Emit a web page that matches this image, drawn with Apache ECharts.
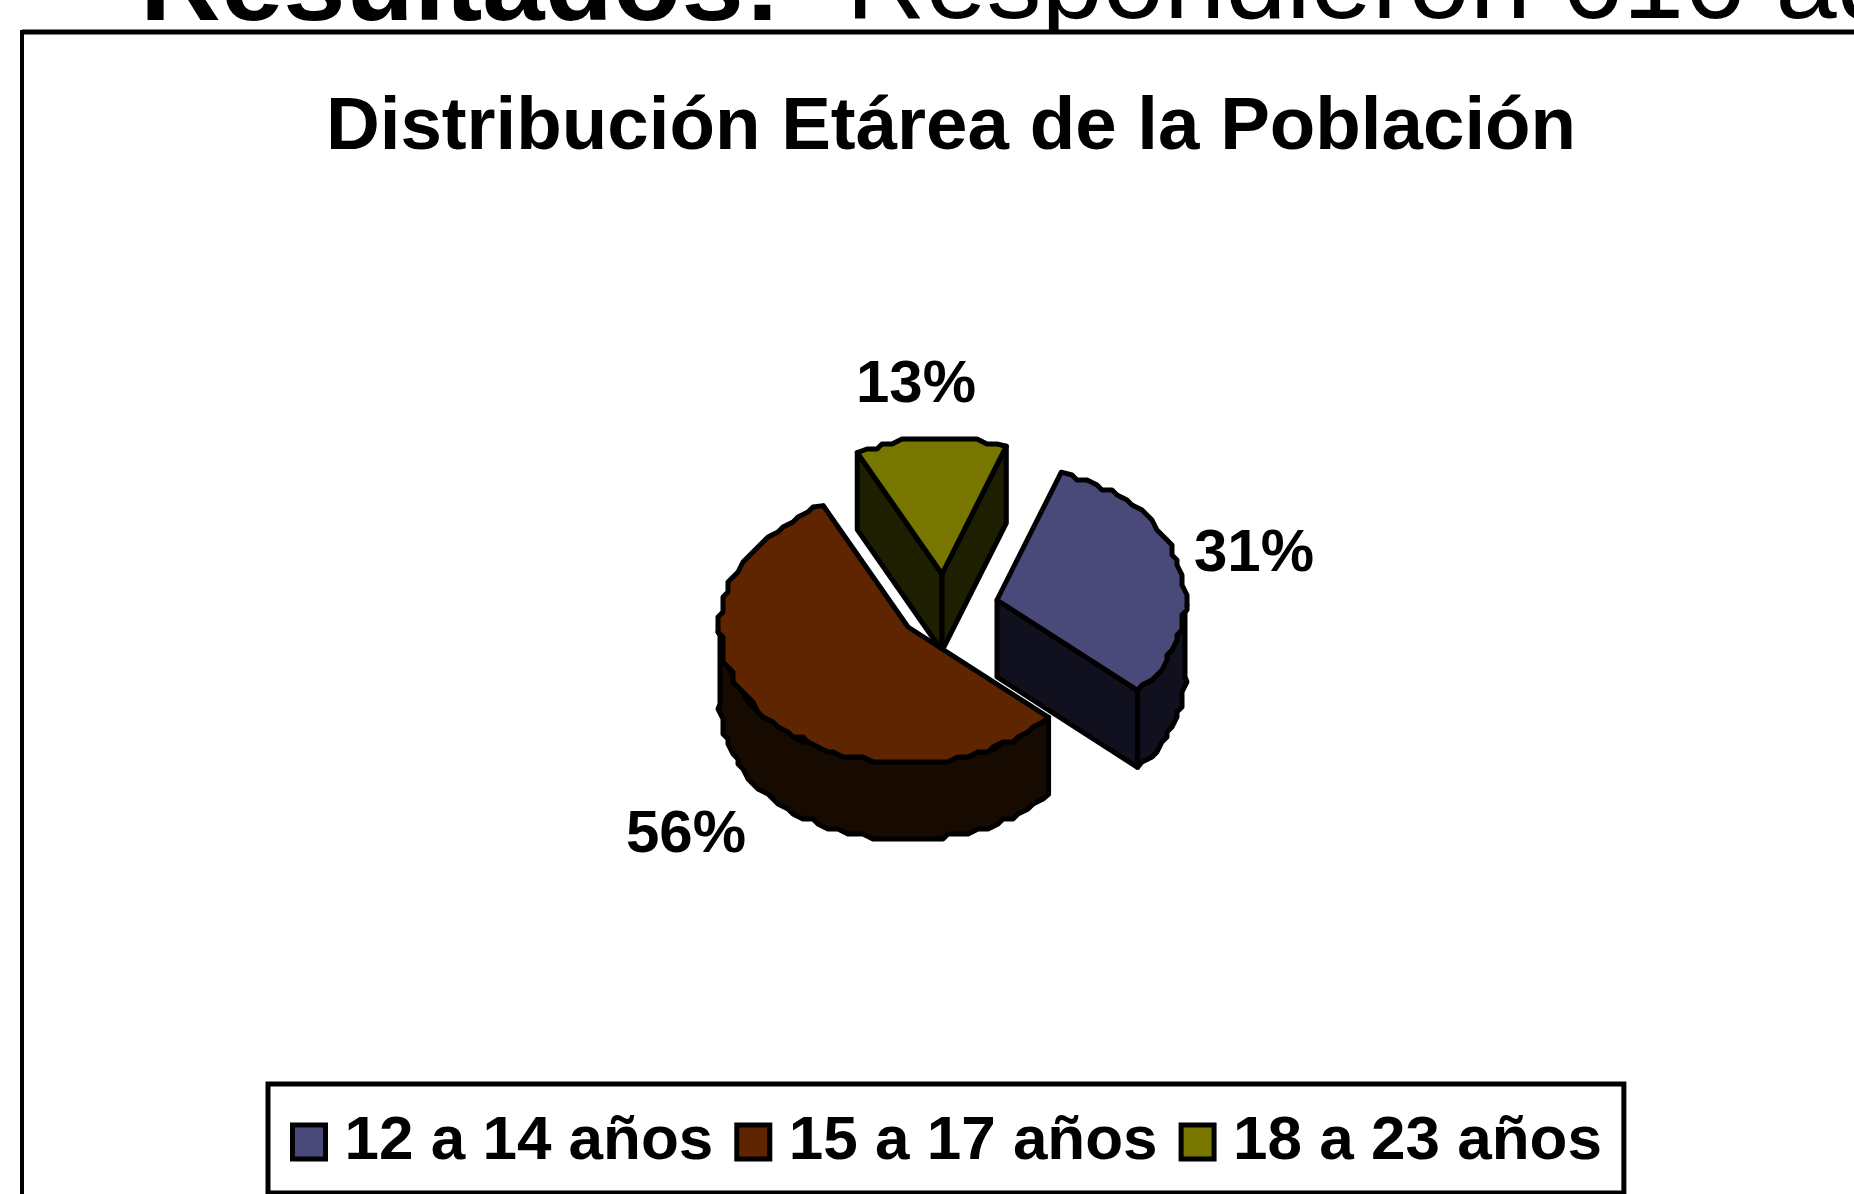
<!DOCTYPE html>
<html>
<head>
<meta charset="utf-8">
<title>Distribución Etárea de la Población</title>
<style>
  html, body { margin: 0; padding: 0; background: #fff; }
  #chart { width: 1854px; height: 1194px; }
</style>
<script src="https://cdn.jsdelivr.net/npm/echarts@6/dist/echarts.min.js"></script>
</head>
<body>
<div id="chart"></div>
<script>
var categories = ['12 a 14 años', '15 a 17 años', '18 a 23 años'];
var shares = [31, 56, 13];
var labels = ['31%', '56%', '13%'];

var topColors = ['#4a4a7a', '#5f2500', '#777700'];
var sideColors = ['#10101e', '#170a00', '#1e1e00'];
var font = '"Liberation Sans", Arial, sans-serif';

// pie is flattened, so angles are on an ellipse
var centerX = 908, centerY = 627;
var radiusX = 188, radiusY = 136, depth = 77;
var startAngle = 70;
var snap = 5; // the source outline is lumpy, not a clean curve
// slice offsets and label positions, same order as categories
var explode = [[89, -27], [0, 0], [34, -53]];
var labelPos = [[1254, 554], [686, 835], [916, 385]];

var total = shares.reduce(function(a, b) { return a + b; }, 0);

function arcPoints(cx, cy, from, to) {
  var pts = [];
  var n = Math.max(2, Math.ceil(Math.abs(to - from) / 3));
  for (var i = 0; i <= n; i++) {
    var a = (from + (to - from) * i / n) * Math.PI / 180;
    var dx = radiusX * Math.cos(a), dy = -radiusY * Math.sin(a);
    if (i > 0 && i < n) {
      dx = Math.round(dx / snap) * snap;
      dy = Math.round(dy / snap) * snap;
    }
    pts.push([cx + dx, cy + dy]);
  }
  return pts;
}

function down(pts) {
  return pts.map(function(p) { return [p[0], p[1] + depth]; }).reverse();
}

function face(pts, color) {
  return {
    type: 'polygon',
    shape: { points: pts },
    style: { fill: color, stroke: '#000', lineWidth: 5, lineJoin: 'round' }
  };
}

function sliceRenderer(index) {
  return function(params, api) {
    var before = 0;
    for (var i = 0; i < index; i++) before += shares[i];
    var a0 = startAngle - before / total * 360;
    var a1 = a0 - api.value(0) / total * 360;
    var cx = centerX + explode[index][0];
    var cy = centerY + explode[index][1];
    var mid = (a0 + a1) / 2 * Math.PI / 180;
    var children = [];

    // cut faces, only the ones turned to the viewer
    [a0, a1].forEach(function(a) {
      var r = a * Math.PI / 180;
      var px = radiusX * Math.cos(r), py = -radiusY * Math.sin(r);
      var nx = -py, ny = px;
      if (nx * radiusX * Math.cos(mid) - ny * radiusY * Math.sin(mid) > 0) { ny = -ny; }
      if (ny > 0) {
        var edge = [[cx, cy], [cx + px, cy + py]];
        children.push(face(edge.concat(down(edge)), sideColors[index]));
      }
    });

    // outer wall, front half of the ellipse only
    for (var k = 0; k >= -1; k--) {
      var hi = Math.min(a0, k * 360), lo = Math.max(a1, k * 360 - 180);
      if (hi > lo) {
        var wall = arcPoints(cx, cy, hi, lo);
        children.push(face(wall.concat(down(wall)), sideColors[index]));
      }
    }

    children.push(face([[cx, cy]].concat(arcPoints(cx, cy, a0, a1)), topColors[index]));
    children.push({
      type: 'text',
      style: {
        text: labels[index], x: labelPos[index][0], y: labelPos[index][1],
        font: 'bold 60px ' + font, fill: '#000', align: 'center', verticalAlign: 'middle'
      }
    });
    return { type: 'group', children: children };
  };
}

var chart = echarts.init(document.getElementById('chart'), null, { renderer: 'canvas' });

// olive first, brown last so its tip sits over the others
var drawOrder = [2, 0, 1];

chart.setOption({
  animation: false,
  backgroundColor: '#fff',
  title: {
    text: 'Distribución Etárea de la Población',
    left: 946, top: 86, textAlign: 'center',
    textStyle: { fontFamily: font, fontWeight: 'bold', fontSize: 74.5, color: '#000' }
  },
  legend: {
    data: categories,
    left: 268, top: 1084,
    padding: [27, 22, 20, 22],
    itemGap: 21,
    itemWidth: 33, itemHeight: 34,
    borderColor: '#000', borderWidth: 5,
    backgroundColor: '#fff',
    icon: 'rect',
    itemStyle: { borderColor: '#000', borderWidth: 5 },
    textStyle: { fontFamily: font, fontWeight: 'bold', fontSize: 62, color: '#000', padding: [0, 0, 0, 14] }
  },
  graphic: [
    { type: 'text', left: 140, top: -67, style: { text: 'Resultados:', font: 'bold 112px ' + font, fill: '#000' } },
    { type: 'text', left: 846, top: -67, style: { text: 'Respondieron 616 adolescentes', font: '110px ' + font, fill: '#000' } },
    { type: 'rect', shape: { x: 0, y: 32, width: 1854, height: 30 }, style: { fill: '#fff' }, z: 1 },
    { type: 'line', shape: { x1: 22, y1: 32, x2: 1854, y2: 32 }, style: { stroke: '#000', lineWidth: 5 }, z: 2 },
    { type: 'line', shape: { x1: 22, y1: 30, x2: 22, y2: 1194 }, style: { stroke: '#000', lineWidth: 4 }, z: 2 }
  ],
  series: drawOrder.map(function(i) {
    return {
      type: 'custom',
      name: categories[i],
      coordinateSystem: 'none',
      renderItem: sliceRenderer(i),
      itemStyle: { color: topColors[i], borderColor: '#000', borderWidth: 4 },
      data: [[shares[i]]]
    };
  })
});
window.addEventListener('resize', function() { chart.resize(); });
</script>
</body>
</html>
